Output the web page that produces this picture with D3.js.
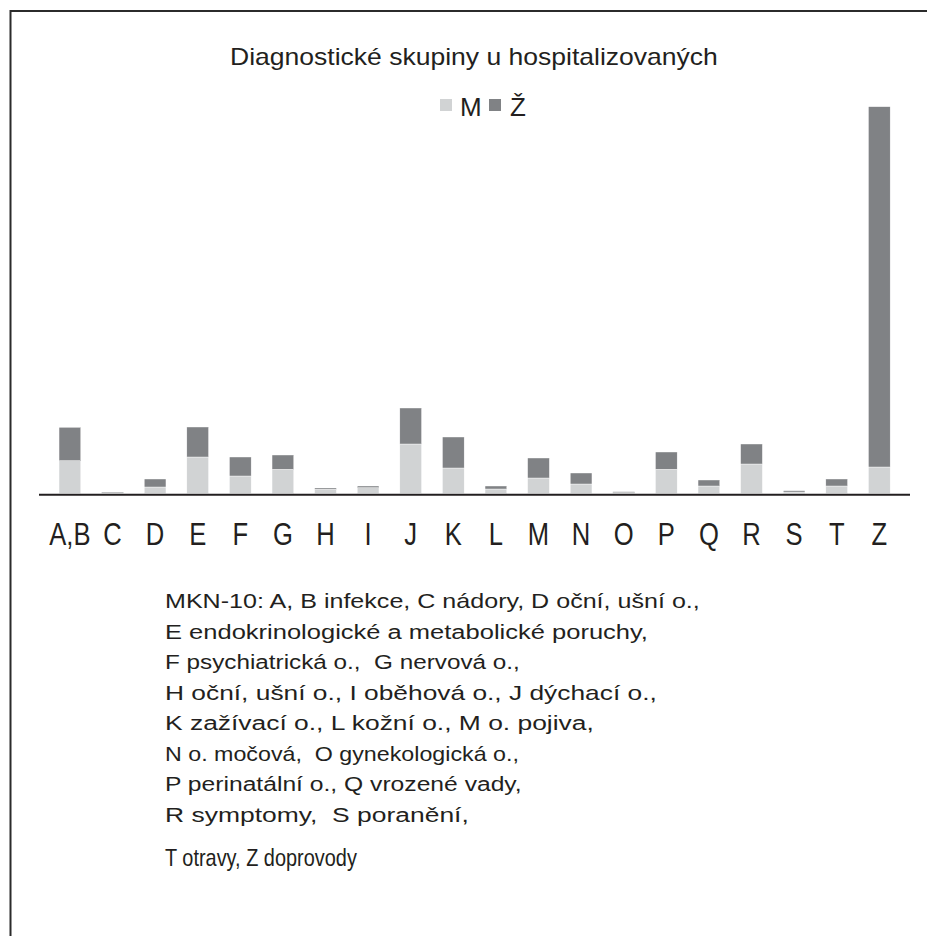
<!DOCTYPE html>
<html>
<head>
<meta charset="utf-8">
<script src="https://cdn.jsdelivr.net/npm/d3@7"></script>
<style>
  html, body { margin: 0; padding: 0; background: #fff; }
  svg { display: block; }
  text { font-family: "Liberation Sans", Arial, sans-serif; fill: #231f20; white-space: pre; }
</style>
</head>
<body>
<div id="chart"></div>
<script>
// ---- data ----
const categories = ["A,B","C","D","E","F","G","H","I","J","K","L","M","N","O","P","Q","R","S","T","Z"];
const valuesM = [32.8, 0.7, 6.5, 36.5, 17.5, 24.2, 4.2, 5.8, 49.5, 25.5, 4.5, 15.5, 9.5, 0.8, 24.2, 7.5, 29.5, 1.5, 7.5, 26.5];
const valuesZ = [33.4, 0.8, 8.0, 30.0, 19.0, 14.3, 1.3, 1.7, 36.0, 31.0, 3.0, 20.0, 11.0, 1.0, 17.3, 6.0, 20.0, 1.3, 7.0, 360.3];
const seriesNames = ["M", "Ž"];
const titleText = "Diagnostické skupiny u hospitalizovaných";
const noteLines = [
  "MKN-10: A, B infekce, C nádory, D oční, ušní o.,",
  "E endokrinologické a metabolické poruchy,",
  "F psychiatrická o.,  G nervová o.,",
  "H oční, ušní o., I oběhová o., J dýchací o.,",
  "K zažívací o., L kožní o., M o. pojiva,",
  "N o. močová,  O gynekologická o.,",
  "P perinatální o., Q vrozené vady,",
  "R symptomy,  S poranění,",
  "T otravy, Z doprovody"
];

// ---- layout ----
const W = 927, H = 936;
const colors = ["#d1d3d4", "#808285"];
const svg = d3.select("#chart").append("svg").attr("width", W).attr("height", H);

// helper: stretch a text horizontally so it spans a given width
function fitWidth(sel, x0, y0, target) {
  sel.each(function(d, i) {
    const t = d3.select(this);
    const w = this.getComputedTextLength();
    const tw = typeof target === "function" ? target(d, i) : target;
    const yy = typeof y0 === "function" ? y0(d, i) : y0;
    t.attr("x", 0).attr("y", 0)
     .attr("transform", `translate(${x0},${yy}) scale(${tw / w},1)`);
  });
}

// frame (top and left edges visible)
svg.append("line").attr("x1", 10).attr("x2", W).attr("y1", 11).attr("y2", 11)
  .attr("stroke", "#2b2b2b").attr("stroke-width", 2);
svg.append("line").attr("x1", 10.5).attr("x2", 10.5).attr("y1", 10).attr("y2", H)
  .attr("stroke", "#2b2b2b").attr("stroke-width", 2);

// title
svg.append("text").attr("font-size", 24).text(titleText)
  .call(fitWidth, 230, 65, 488);

// legend
const legendItems = [
  {name: seriesNames[0], sx: 440, tx: 460},
  {name: seriesNames[1], sx: 489, tx: 510}
];
legendItems.forEach((d, i) => {
  svg.append("rect").attr("x", d.sx).attr("y", 99).attr("width", 12).attr("height", 12)
    .attr("fill", colors[i]);
  svg.append("text").attr("x", d.tx).attr("y", 116).attr("font-size", 26).text(d.name);
});

// scales
const baseY = 493.5;
const x = d3.scaleBand().domain(categories).range([48.6, 900.6])
  .paddingInner(0.49).paddingOuter(0.245);
const y = d3.scaleLinear().domain([0, 400]).range([baseY, baseY - 400]);

const table = categories.map((c, i) => ({cat: c, M: valuesM[i], Z: valuesZ[i]}));
const stack = d3.stack().keys(["M", "Z"])(table);

svg.append("g").selectAll("g").data(stack).join("g")
  .attr("fill", (d, i) => colors[i])
  .selectAll("rect").data(d => d).join("rect")
  .attr("x", d => x(d.data.cat))
  .attr("width", x.bandwidth())
  .attr("y", d => y(d[1]))
  .attr("height", d => Math.max(0, y(d[0]) - y(d[1])))
  .attr("stroke", "#fff").attr("stroke-width", 0.4);

// axis line
svg.append("line").attr("x1", 39).attr("x2", 910).attr("y1", 494.8).attr("y2", 494.8)
  .attr("stroke", "#231f20").attr("stroke-width", 2);

// category labels
svg.append("g").selectAll("text").data(categories).join("text")
  .attr("transform", d => `translate(${x(d) + x.bandwidth() / 2},545) scale(0.8,1)`)
  .attr("text-anchor", "middle").attr("font-size", 32)
  .text(d => d);

// note text
const noteY = [608, 638.5, 669, 699.5, 730, 760.5, 791, 821.5, 866];
const noteW = [535, 483, 355, 492, 429, 354, 357, 304, 192];
const noteSize = [21, 21, 21, 21, 21, 21, 21, 21, 24];
svg.append("g").selectAll("text").data(noteLines).join("text")
  .attr("font-size", (d, i) => noteSize[i])
  .text(d => d)
  .call(fitWidth, 165, (d, i) => noteY[i], (d, i) => noteW[i]);
</script>
</body>
</html>
